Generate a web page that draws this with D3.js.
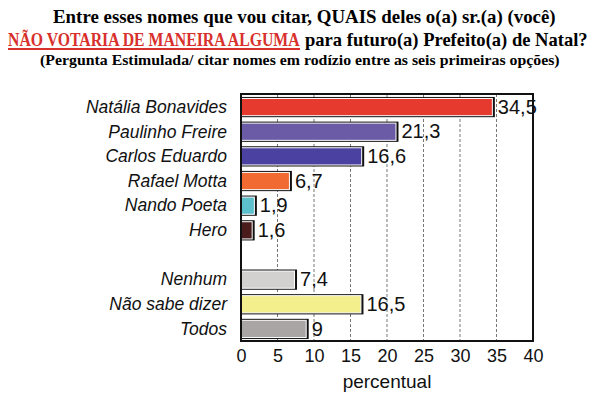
<!DOCTYPE html>
<html>
<head>
<meta charset="utf-8">
<script src="https://cdn.jsdelivr.net/npm/d3@7"></script>
<style>
  body { margin: 0; background: #fff; }
</style>
</head>
<body>
<div id="chart"></div>
<script>
// data
var categories = ["Natália Bonavides", "Paulinho Freire", "Carlos Eduardo", "Rafael Motta",
  "Nando Poeta", "Hero", "", "Nenhum", "Não sabe dizer", "Todos"];
var values = [34.5, 21.3, 16.6, 6.7, 1.9, 1.6, null, 7.4, 16.5, 9];
var valueLabels = ["34,5", "21,3", "16,6", "6,7", "1,9", "1,6", "", "7,4", "16,5", "9"];
var barColors = ["#e63a2e", "#6b5aa6", "#4b41a0", "#f06a32", "#5cc0cc", "#4a1c1c", "none",
  "#d3d0d0", "#f3ef8c", "#a9a5a5"];
var tickValues = [0, 5, 10, 15, 20, 25, 30, 35, 40];

var W = 600, H = 401;
var plot = {left: 241, right: 533, top: 94, bottom: 341};

var svg = d3.select("#chart").append("svg")
  .attr("width", W)
  .attr("height", H);

//title lines: squeeze horizontally to the width seen in the reference
function titleText(x0, y0, size, len, str, color) {
  var t = svg.append("text")
    .attr("x", 0).attr("y", 0)
    .attr("font-family", "Liberation Serif, serif")
    .attr("font-weight", "bold")
    .attr("font-size", size)
    .attr("fill", color || "#000")
    .text(str);
  var natural = t.node().getComputedTextLength();
  t.attr("transform", "translate(" + x0 + "," + y0 + ") scale(" + (len / natural) + ",1)");
  return t;
}
titleText(53, 23, 18, 503, "Entre esses nomes que vou citar, QUAIS deles o(a) sr.(a) (você)");
titleText(8, 46, 18, 292, "NÃO VOTARIA DE MANEIRA ALGUMA", "#d8302c");
titleText(305, 46, 18, 283, "para futuro(a) Prefeito(a) de Natal?");
titleText(40, 65, 14, 520, "(Pergunta Estimulada/ citar nomes em rodízio entre as seis primeiras opções)");

// red underline
svg.append("line")
  .attr("x1", 8).attr("x2", 300)
  .attr("y1", 49).attr("y2", 49)
  .attr("stroke", "#d8302c").attr("stroke-width", 2);

//scales
var x = d3.scaleLinear().domain([0, 40]).range([plot.left, plot.right]);
var y = d3.scaleBand().domain(d3.range(categories.length))
  .range([plot.top, plot.bottom]).paddingInner(0.22).paddingOuter(0.12);

//grid lines
svg.append("g").selectAll("line")
  .data(tickValues.filter(function(d) { return d > 0 && d < 40; }))
  .enter().append("line")
  .attr("x1", function(d) { return x(d); })
  .attr("x2", function(d) { return x(d); })
  .attr("y1", plot.top).attr("y2", plot.bottom)
  .attr("stroke", "#777")
  .attr("stroke-width", 1)
  .attr("stroke-dasharray", "3,2");

//bars
var rows = d3.range(categories.length).filter(function(i) { return values[i] != null; });
var bars = svg.append("g").selectAll("g")
  .data(rows)
  .enter().append("g");

// black outline (slightly offset = the shadow)
bars.append("rect")
  .attr("x", x(0))
  .attr("y", function(i) { return y(i); })
  .attr("width", function(i) { return x(values[i]) - x(0) + 2; })
  .attr("height", y.bandwidth() + 1)
  .attr("fill", "#111");

bars.append("rect")
  .attr("x", x(0) + 0.5)
  .attr("y", function(i) { return y(i) + 1.5; })
  .attr("width", function(i) { return Math.max(x(values[i]) - x(0) - 1, 1); })
  .attr("height", y.bandwidth() - 2)
  .attr("fill", function(i) { return barColors[i]; })
  .attr("stroke", "#fff")
  .attr("stroke-width", 1);

//value labels
svg.append("g").selectAll("text")
  .data(rows)
  .enter().append("text")
  .attr("x", function(i) { return x(values[i]) + 5; })
  .attr("y", function(i) { return y(i) + y.bandwidth() / 2; })
  .attr("dy", "0.36em")
  .attr("font-family", "Liberation Sans, Arial, sans-serif")
  .attr("font-size", 20)
  .attr("fill", "#111")
  .text(function(i) { return valueLabels[i]; });

//category labels
svg.append("g").selectAll("text")
  .data(rows)
  .enter().append("text")
  .attr("x", 227)
  .attr("y", function(i) { return y(i) + y.bandwidth() / 2; })
  .attr("dy", "0.36em")
  .attr("text-anchor", "end")
  .attr("font-family", "Liberation Sans, Arial, sans-serif")
  .attr("font-style", "italic")
  .attr("font-size", 17.5)
  .attr("fill", "#111")
  .text(function(i) { return categories[i]; });

//frame
svg.append("rect")
  .attr("x", plot.left).attr("y", plot.top)
  .attr("width", plot.right - plot.left)
  .attr("height", plot.bottom - plot.top)
  .attr("fill", "none")
  .attr("stroke", "#111")
  .attr("stroke-width", 2);

//x axis
var xAxis = d3.axisBottom(x).tickValues(tickValues).tickSize(0).tickPadding(8);
var ax = svg.append("g")
  .attr("transform", "translate(0," + plot.bottom + ")")
  .call(xAxis);
ax.select(".domain").remove();
ax.selectAll("text")
  .attr("font-family", "Liberation Sans, Arial, sans-serif")
  .attr("font-size", 18)
  .attr("fill", "#111");

svg.append("text")
  .attr("x", (plot.left + plot.right) / 2)
  .attr("y", 388)
  .attr("text-anchor", "middle")
  .attr("font-family", "Liberation Sans, Arial, sans-serif")
  .attr("font-size", 19)
  .attr("fill", "#111")
  .text("percentual");
</script>
</body>
</html>
